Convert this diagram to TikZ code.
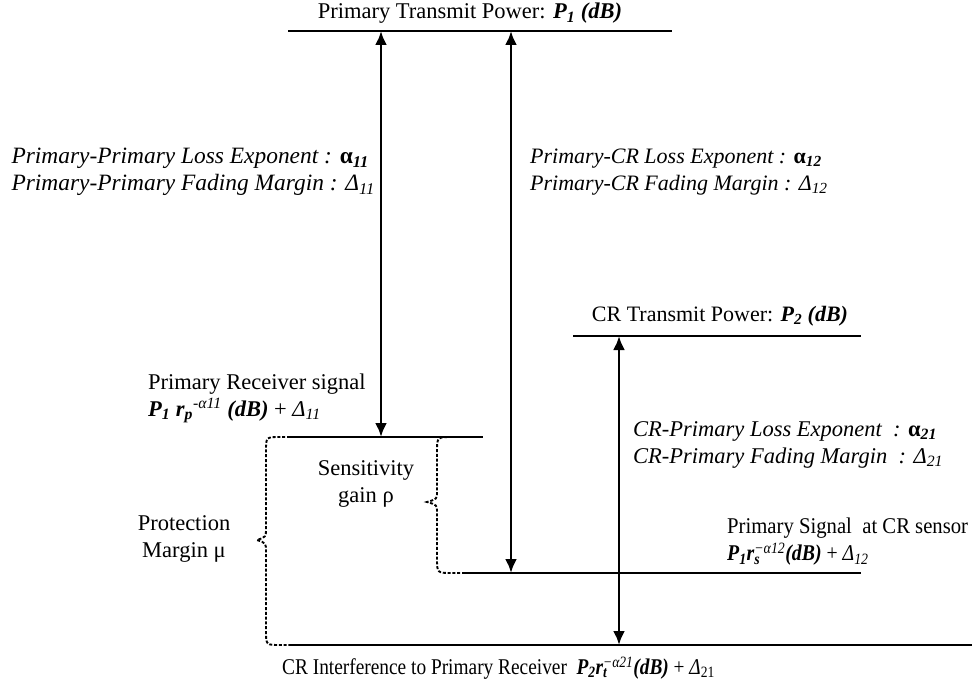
\documentclass[tikz,border=0pt]{standalone}
\usepackage{fontspec}
\usepackage{graphicx}
\setmainfont{Liberation Serif}
\usetikzlibrary{arrows.meta}
\newcommand\bitx[1]{\textbf{\textit{#1}}}
\newcommand\subx[1]{\textsubscript{#1}}
\newcommand\supx[1]{\textsuperscript{#1}}
\begin{document}
\begin{tikzpicture}[x=1pt,y=-1pt,
  level/.style={line width=2.3pt},
  link/.style={line width=2.8pt,{Latex[length=14pt,width=12pt]}-{Latex[length=14pt,width=12pt]}},
  bracket/.style={line width=1.9pt,dash pattern=on 3pt off 1.8pt},
  lbl/.style={inner sep=0pt,font=\fontsize{22.5}{27}\selectfont},
  ilbl/.style={lbl,font=\fontsize{22.5}{27}\selectfont\itshape,align=left}]
\useasboundingbox (0,0) rectangle (977,687);

% power levels
\coordinate (tpL) at (288,31);  \coordinate (tpR) at (672,31);
\coordinate (crL) at (573,336); \coordinate (crR) at (861,336);
\coordinate (prL) at (290,437); \coordinate (prR) at (483,437);
\coordinate (csL) at (465,573); \coordinate (csR) at (861,573);
\coordinate (ciL) at (290,645); \coordinate (ciR) at (972,645);
\draw[level] (tpL) -- (tpR);
\draw[level] (crL) -- (crR);
\draw[level] (prL) -- (prR);
\draw[level] (csL) -- (csR);
\draw[level] (ciL) -- (ciR);

% path-loss links
\coordinate (a1t) at (381,31);  \coordinate (a1b) at (381,437);
\coordinate (a2t) at (511,31);  \coordinate (a2b) at (511,573);
\coordinate (a3t) at (619,336); \coordinate (a3b) at (619,645);
\draw[link] (a1t) -- (a1b);
\draw[link] (a2t) -- (a2b);
\draw[link] (a3t) -- (a3b);

% margins
\draw[bracket] (prL) -- (280,437) .. controls (266,437) .. (266,451) -- (266,528)
  .. controls (266,537) .. (257,540) .. controls (266,543) .. (266,552) -- (266,631)
  .. controls (266,645) .. (280,645) -- (ciL);
\draw[bracket] (csL) -- (452,573) .. controls (437,573) .. (437,558) -- (437,512)
  .. controls (437,505) .. (427,502) .. controls (437,499) .. (437,492) -- (437,452)
  .. controls (437,437) .. (452,437) -- (465,437);

% labels
\node[lbl,anchor=south] (tpT) at (470,24) {Primary Transmit Power: \bitx{P\subx{1} (dB)}};
\node[ilbl,anchor=east,font=\fontsize{23.4}{27}\selectfont\itshape] (ppT) at (375,172) {Primary-Primary Loss Exponent : \textbf{\textup{α}}\subx{\bitx{11}}\\Primary-Primary Fading Margin : Δ\subx{11}};
\node[ilbl,anchor=west,font=\fontsize{22}{27}\selectfont\itshape] (pcT) at (530,172) {Primary-CR Loss Exponent : \textbf{\textup{α}}\subx{\bitx{12}}\\Primary-CR Fading Margin : Δ\subx{12}};
\node[lbl,anchor=south,font=\fontsize{22}{27}\selectfont] (crT) at (720,326) {CR Transmit Power: \bitx{P\subx{2} (dB)}};
\node[lbl,anchor=west,align=left] (prT) at (148,398) {Primary Receiver signal\\\bitx{P\subx{1} r\subx{p}}\supx{\textit{-α11}} \bitx{(dB)} + \textit{Δ\subx{11}}};
\node[ilbl,anchor=west] (rpT) at (633,445) {CR-Primary Loss Exponent~ : \textbf{\textup{α}}\subx{\bitx{21}}\\CR-Primary Fading Margin~ : Δ\subx{21}};
\node[lbl,align=center] (sgT) at (366,484) {Sensitivity\\gain ρ};
\node[lbl,align=center] (pmT) at (184,539) {Protection\\Margin μ};
\node[lbl,anchor=west,align=left] (csT) at (727,542) {\scalebox{0.92}[1]{Primary Signal~ at CR sensor}\\\scalebox{0.88}[1]{\bitx{P\subx{1}r\rlap{\subx{s}}}\supx{\textit{−α12}}\bitx{(dB)} + \textit{Δ\subx{12}}}};
\node[lbl,anchor=west] (ciT) at (282,668) {\scalebox{0.86}[1]{CR Interference to Primary Receiver~ \bitx{P\subx{2}r\rlap{\subx{t}}}\supx{\textit{−α21}}\bitx{(dB)} + \textit{Δ}\subx{21}}};
\end{tikzpicture}
\end{document}
